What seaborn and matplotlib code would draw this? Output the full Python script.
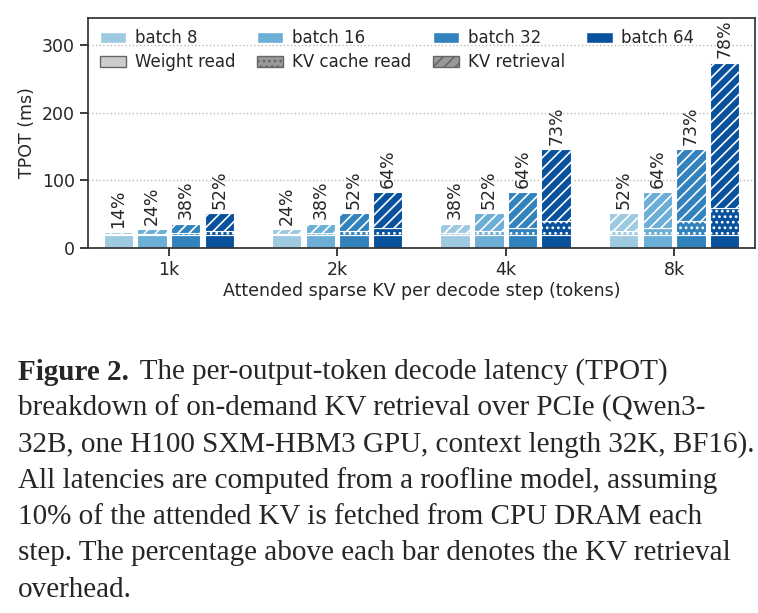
import matplotlib
matplotlib.use("Agg")
import matplotlib.pyplot as plt
import seaborn as sns
import numpy as np
from matplotlib.patches import Patch

sns.set_theme(style="ticks")
plt.rcParams['font.family'] = ['DejaVu Sans']
plt.rcParams['hatch.color'] = 'white'
plt.rcParams['hatch.linewidth'] = 1.2

groups = ["1k", "2k", "4k", "8k"]
batches = ["batch 8", "batch 16", "batch 32", "batch 64"]
colors = ["#9ecae1", "#6baed6", "#3182bd", "#08519c"]
weight = [[20, 20, 20, 20]] * 4
kv_read = [[0.6, 1.2, 2.5, 5], [1.2, 2.5, 5, 10], [2.5, 5, 10, 20], [5, 10, 20, 40]]
kv_retr = [[3.3, 7, 14, 27], [7, 14, 27, 53], [14, 27, 53, 107], [27, 53, 107, 214]]
pct = [["14%", "24%", "38%", "52%"], ["24%", "38%", "52%", "64%"],
       ["38%", "52%", "64%", "73%"], ["52%", "64%", "73%", "78%"]]

fig = plt.figure(figsize=(7.58, 6.13), dpi=100)
ax = fig.add_axes([0.116, 0.595, 0.88, 0.376])
w = 0.175
for g in range(4):
    for b in range(4):
        x = g + (b - 1.5) * 0.2
        wt, kr, rt = weight[g][b], kv_read[g][b], kv_retr[g][b]
        ax.bar(x, wt, w, color=colors[b], edgecolor='white', linewidth=0.8)
        ax.bar(x, kr, w, bottom=wt, color=colors[b], edgecolor='white', linewidth=0.8, hatch='...')
        ax.bar(x, rt, w, bottom=wt + kr, color=colors[b], edgecolor='white', linewidth=0.8, hatch='///')
        ax.text(x, wt + kr + rt + 6, pct[g][b], rotation=90, ha='center', va='bottom', fontsize=12.5)
for s in ax.spines.values():
    s.set_color('#333333')
ax.set_xticks(range(4))
ax.set_xticklabels(groups, fontsize=12.5)
ax.set_ylim(0, 340)
ax.set_yticks([0, 100, 200, 300])
ax.tick_params(labelsize=12.5)
ax.set_xlim(-0.48, 3.48)
ax.set_ylabel("TPOT (ms)", fontsize=12.5)
ax.set_xlabel("Attended sparse KV per decode step (tokens)", fontsize=12.5, labelpad=2)
ax.yaxis.grid(True, linestyle=':', color='#bbbbbb')
ax.set_axisbelow(True)
handles = [Patch(facecolor=c, label=l) for c, l in zip(colors, batches)]
handles += [Patch(facecolor='#cccccc', edgecolor='#666666', label='Weight read'),
            Patch(facecolor='#999999', edgecolor='#666666', hatch='...', label='KV cache read'),
            Patch(facecolor='#999999', edgecolor='#666666', hatch='///', label='KV retrieval')]
order = [0, 4, 1, 5, 2, 6, 3]
ax.legend([handles[i] for i in order], [handles[i].get_label() for i in order],
          ncol=4, frameon=False, loc='upper left', fontsize=12,
          handlelength=1.6, columnspacing=1.3, handletextpad=0.5,
          borderaxespad=0.3, labelspacing=0.35)

lines = [
    " The per-output-token decode latency (TPOT)",
    "breakdown of on-demand KV retrieval over PCIe (Qwen3-",
    "32B, one H100 SXM-HBM3 GPU, context length 32K, BF16).",
    "All latencies are computed from a roofline model, assuming",
    "10% of the attended KV is fetched from CPU DRAM each",
    "step. The percentage above each bar denotes the KV retrieval",
    "overhead.",
]
x0 = 18 / 758
for i, t in enumerate(lines):
    y = 1 - (372 + i * 36.3) / 613
    if i == 0:
        tb = fig.text(x0, y, "Figure 2.", family='Liberation Serif', weight='bold',
                      fontsize=21, va='center', ha='left')
        fig.canvas.draw()
        bb = tb.get_window_extent()
        fig.text(bb.x1 / 758 + 0.005, y, t, family='Liberation Serif',
                 fontsize=21, va='center', ha='left')
    else:
        fig.text(x0, y, t, family='Liberation Serif', fontsize=21, va='center', ha='left')
fig.savefig("out.png", dpi=100)
